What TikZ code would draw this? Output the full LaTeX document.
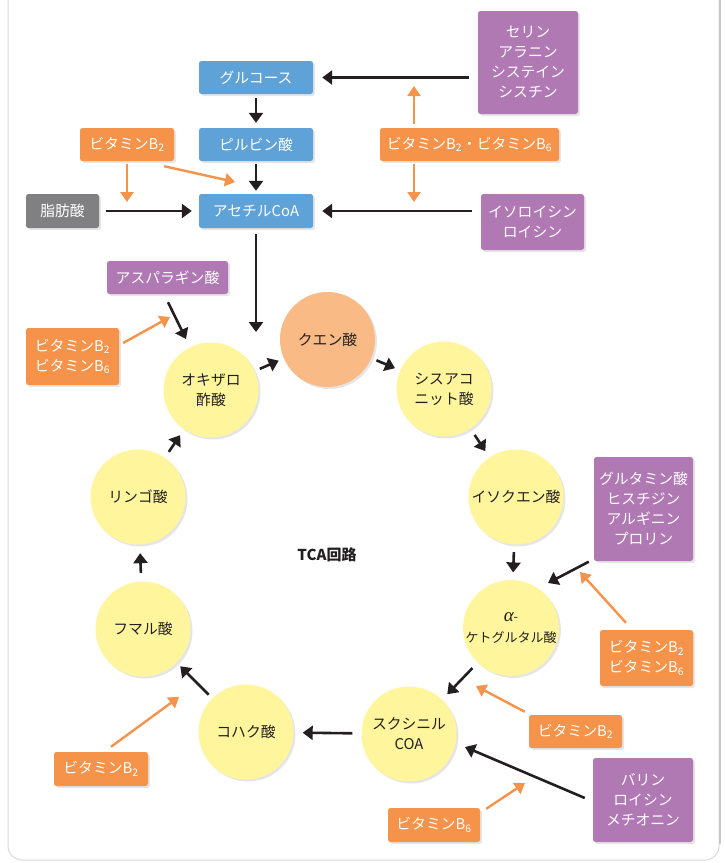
\documentclass[tikz,border=0pt]{standalone}
\usepackage{fontspec}
\setmainfont{Noto Sans CJK JP}
\newfontfamily\alphafont{Liberation Serif}
\usetikzlibrary{arrows.meta,shadows,calc}
\definecolor{cblue}{HTML}{5FA2D8}
\definecolor{corange}{HTML}{F6934A}
\definecolor{cpurple}{HTML}{B179B4}
\definecolor{cgray}{HTML}{808083}
\definecolor{cyel}{HTML}{FFF59D}
\definecolor{ccit}{HTML}{F9BA85}
\definecolor{ink}{HTML}{231F20}
\begin{document}
\begin{tikzpicture}[x=1pt,y=-1pt,
  shad/.style={drop shadow={opacity=0.2,shadow xshift=2pt,shadow yshift=-2pt}},
  box/.style={rounded corners=2.5pt, text=white, align=center, inner sep=0pt,
    font=\fontsize{14.8}{20}\selectfont, shad},
  bluebox/.style={box, fill=cblue},
  obox/.style={box, fill=corange},
  pbox/.style={box, fill=cpurple},
  gbox/.style={box, fill=cgray},
  circ/.style={circle, minimum size=95pt, inner sep=0pt, fill=cyel, text=ink,
    align=center, font=\fontsize{14.8}{20}\selectfont, shad},
  arr/.style={draw=ink, line width=2.6pt, -{Triangle[length=10pt,width=14pt]}},
  oarr/.style={draw=corange, line width=2.4pt, -{Triangle[length=10pt,width=13pt]}},
]
\useasboundingbox (0,0) rectangle (724,863);
% panel
\draw[fill=white, draw=black!15, line width=1pt, rounded corners=14pt] (8,-30) rectangle (719,860);
\draw[black!22, line width=2.5pt] (720,-5) -- (720,844);

% boxes
\node[bluebox, minimum width=114pt, minimum height=33pt] (glu) at (256,77.5) {グルコース};
\node[bluebox, minimum width=114pt, minimum height=33pt] (pyr) at (256,144.5) {ピルビン酸};
\node[bluebox, minimum width=114pt, minimum height=34pt] (ace) at (256,211) {アセチルCoA};
\node[gbox, minimum width=73pt, minimum height=34pt] (fat) at (62.5,211) {脂肪酸};
\node[obox, minimum width=94pt, minimum height=33pt] (vb2a) at (127,144.5) {ビタミンB\textsubscript{2}};
\node[pbox, minimum width=100pt, minimum height=103pt] (ser) at (528,62.5) {セリン\\アラニン\\システイン\\シスチン};
\node[obox, minimum width=179pt, minimum height=33pt] (vb26) at (469.5,144.5) {ビタミンB\textsubscript{2}・ビタミンB\textsubscript{6}};
\node[pbox, minimum width=103pt, minimum height=56pt] (ile) at (532.5,222) {イソロイシン\\ロイシン};
\node[pbox, minimum width=121pt, minimum height=33pt] (asp) at (167.5,277.5) {アスパラギン酸};
\node[obox, minimum width=93pt, minimum height=57pt] (vb26l) at (72.5,356.5) {ビタミンB\textsubscript{2}\\ビタミンB\textsubscript{6}};
\node[pbox, minimum width=99pt, minimum height=104pt] (gln) at (643.5,509) {グルタミン酸\\ヒスチジン\\アルギニン\\プロリン};
\node[obox, minimum width=93pt, minimum height=56pt] (vb26r) at (646.5,658) {ビタミンB\textsubscript{2}\\ビタミンB\textsubscript{6}};
\node[obox, minimum width=93pt, minimum height=33pt] (vb2r) at (575.5,731.5) {ビタミンB\textsubscript{2}};
\node[pbox, minimum width=100pt, minimum height=84pt] (val) at (643,800) {バリン\\ロイシン\\メチオニン};
\node[obox, minimum width=92pt, minimum height=34pt] (vb6) at (434,825) {ビタミンB\textsubscript{6}};
\node[obox, minimum width=94pt, minimum height=34pt] (vb2l) at (101,769) {ビタミンB\textsubscript{2}};

% circles
\node[circ, fill=ccit] (cit) at (327.5,339.5) {クエン酸};
\node[circ] (oxa) at (211,390) {オキザロ\\酢酸};
\node[circ] (cis) at (444,389) {シスアコ\\ニット酸};
\node[circ] (iso) at (516,497) {イソクエン酸};
\node[circ, font=\fontsize{13}{21}\selectfont] (akg) at (511,628) {{\alphafont\itshape\fontsize{19}{21}\selectfont α}-\\ケトグルタル酸};
\node[circ] (suc) at (409,734) {スクシニル\\COA};
\node[circ] (koh) at (246,732) {コハク酸};
\node[circ] (fum) at (143,629) {フマル酸};
\node[circ] (rin) at (138,497) {リンゴ酸};
\node[text=ink, font=\bfseries\fontsize{15}{16}\selectfont] (tca) at (327,555) {TCA回路};

% free ends
\coordinate (aceIn) at (256,332);
\coordinate (upEnd) at (414,86);
\coordinate (dnEnd) at (414,202);
\coordinate (b2down) at (127,202);
\coordinate (b2diag) at (235,182);
\coordinate (aspEnd) at (186,339);
\coordinate (lEnd) at (170,317);
\coordinate (glnEnd) at (548,583);
\coordinate (rEnd) at (580,572);
\coordinate (b2rEnd) at (476,686);
\coordinate (valEnd) at (465,747);
\coordinate (b6End) at (525,783);
\coordinate (b2lEnd) at (179,697);

% top arrows
\draw[arr, shorten <=4pt, shorten >=5pt] (glu) -- (pyr);
\draw[arr, shorten <=3pt, shorten >=3pt] (pyr) -- (ace);
\draw[arr, shorten <=7pt, shorten >=7pt] (fat) -- (ace);
\draw[arr, shorten <=5.5pt] (ace) -- (aceIn);
\draw[arr, shorten <=9pt, shorten >=9pt] (ser.west |- glu.east) -- (glu.east);
\draw[arr, shorten <=9pt, shorten >=9pt] (ile.west |- ace.east) -- (ace.east);
\draw[oarr, shorten <=4pt] (vb26.north -| upEnd) -- (upEnd);
\draw[oarr, shorten <=3pt] (vb26.south -| dnEnd) -- (dnEnd);
\draw[oarr, shorten <=3pt] (vb2a) -- (b2down);
\draw[oarr] ($(vb2a.south east)+(-10,5)$) -- (b2diag);

% side arrows
\draw[arr] ($(asp.south)+(0.5,8)$) -- (aspEnd);
\draw[oarr] ($(vb26l.east)+(4,-13.5)$) -- (lEnd);
\draw[arr] ($(gln.south west)+(-5,0.5)$) -- (glnEnd);
\draw[oarr] ($(vb26r.north)+(-20.5,-7)$) -- (rEnd);
\draw[oarr] ($(vb2r.north west)+(-4,-3)$) -- (b2rEnd);
\draw[arr] ($(val.west)+(-8,-2)$) -- (valEnd);
\draw[oarr] ($(vb6.north east)+(6,1)$) -- (b6End);
\draw[oarr] ($(vb2l.north)+(10,-5)$) -- (b2lEnd);

% cycle arrows
\draw[arr, shorten <=5.5pt, shorten >=5.5pt] (oxa) -- (cit);
\draw[arr, shorten <=5.5pt, shorten >=5.5pt] (cit) -- (cis);
\draw[arr, shorten <=7.5pt, shorten >=7.5pt] (cis) -- (iso);
\draw[arr, shorten <=7.5pt, shorten >=7.5pt] (iso) -- (akg);
\draw[arr, shorten <=7.5pt, shorten >=7.5pt] (akg) -- (suc);
\draw[arr, shorten <=9pt, shorten >=9pt] (suc) -- (koh);
\draw[arr, shorten <=5pt, shorten >=5pt] (koh) -- (fum);
\draw[arr, shorten <=8.5pt, shorten >=8.5pt] (fum) -- (rin);
\draw[arr, shorten <=7pt, shorten >=7pt] (rin) -- (oxa);
\end{tikzpicture}
\end{document}
